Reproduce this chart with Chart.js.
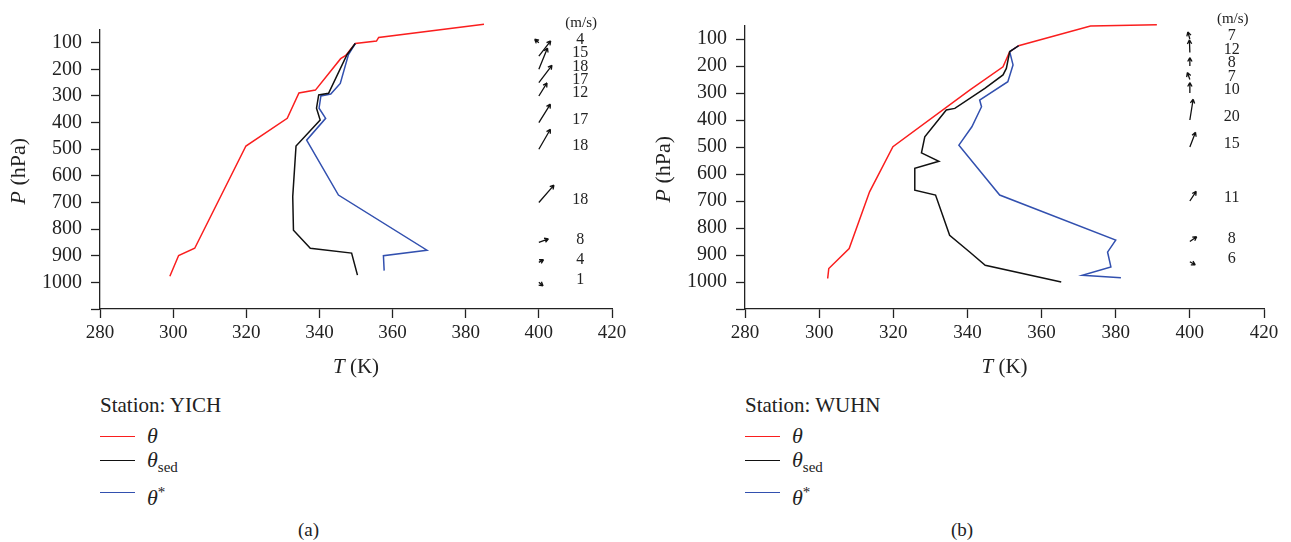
<!DOCTYPE html>
<html>
<head>
<meta charset="utf-8">
<script src="https://cdn.jsdelivr.net/npm/chart.js@4.4.1/dist/chart.umd.min.js"></script>
<style>
body { margin:0; background:#fff; width:1291px; height:542px; overflow:hidden; position:relative; font-family:'Liberation Serif', 'Times New Roman', serif; color:#222; }
.panel { position:absolute; top:0; }
.leg { position:absolute; white-space:nowrap; }
.sw { position:absolute; width:35px; height:0; border-top:1.5px solid; }
.sym { position:absolute; font-size:22px; font-style:italic; line-height:22px; }
.sym sub { font-style:normal; font-size:15px; vertical-align:-5px; }
.sym sup { font-style:normal; font-size:15px; vertical-align:8px; }
</style>
</head>
<body>
<canvas id="chartA" class="panel" width="645" height="385" style="left:0"></canvas>
<canvas id="chartB" class="panel" width="646" height="385" style="left:645px"></canvas>
<div id="legends"></div>
<script>
// Station YICH (a)
var yichThetaT = [299.1, 301.5, 305.9, 319.9, 331.2, 334.4, 338.9, 345.8, 347.2, 349.8, 355.6, 356.2, 385.0];
var yichThetaP = [977, 899, 872, 488, 384, 289, 278, 160, 148, 103, 94, 80, 31];
var yichSedT = [350.4, 348.8, 337.5, 332.9, 332.7, 333.6, 340.2, 339.2, 339.8, 342.5, 347.5, 349.8];
var yichSedP = [973, 890, 872, 804, 678, 488, 390, 346, 296, 290, 146, 103];
var yichStarT = [357.7, 357.5, 369.4, 345.2, 336.5, 341.7, 339.9, 340.4, 343.1, 345.7, 347.9, 349.8];
var yichStarP = [956, 900, 879, 672, 466, 384, 346, 300, 293, 253, 146, 103];
var yichWindP = [100, 150, 200, 250, 300, 400, 500, 700, 850, 925, 1000];
var yichWindSpd = [4, 15, 18, 17, 12, 17, 18, 18, 8, 4, 1];
var yichWindDir = [140, 52, 68, 53, 58, 58, 60, 49, 20, 31, -40];

// Station WUHN (b)
var wuhnThetaT = [302.3, 302.6, 308.1, 313.6, 319.9, 340.6, 349.6, 351.4, 353.8, 373.2, 391.1];
var wuhnThetaP = [987, 950, 876, 666, 499, 289, 203, 147, 125, 52, 47];
var wuhnSedT = [365.3, 344.8, 340.6, 335.2, 331.4, 325.8, 325.8, 332.3, 327.6, 328.5, 334.3, 336.6, 344.7, 349.6, 350.5, 351.4, 353.8];
var wuhnSedP = [1000, 938, 889, 827, 678, 660, 579, 553, 522, 462, 363, 357, 283, 233, 209, 147, 125];
var wuhnStarT = [381.4, 371.0, 378.7, 377.8, 380.0, 348.7, 337.7, 341.2, 343.8, 343.3, 350.9, 352.3, 351.4, 353.8];
var wuhnStarP = [984, 975, 944, 889, 845, 678, 493, 425, 351, 326, 258, 196, 147, 125];
var wuhnWindP = [100, 150, 200, 250, 300, 400, 500, 700, 850, 925];
var wuhnWindSpd = [7, 12, 8, 7, 10, 20, 15, 11, 8, 6];
var wuhnWindDir = [106, 92, 90, 110, 90, 81, 69, 57, 35, -30];

var pTicks = [100, 200, 300, 400, 500, 600, 700, 800, 900, 1000, 1100];
var tTicks = [280, 300, 320, 340, 360, 380, 400, 420];

var FONT = "'Liberation Serif', 'Times New Roman', serif";
Chart.defaults.font.family = FONT;
Chart.defaults.color = '#222';

function pts(t, p) {
    var out = [];
    for (var i = 0; i < t.length; i++) out.push({x: t[i], y: p[i]});
    return out;
}

// wind arrows, their labels and the axis titles (mixed italic text)
function extrasPlugin(windP, windSpd, windDir, lenScale) {
    return {
        id: 'extras',
        afterDraw: function(chart) {
            var ctx = chart.ctx;
            var xs = chart.scales.x, ys = chart.scales.y;
            var x0 = xs.getPixelForValue(400);
            var xl = xs.getPixelForValue(411.3);
            ctx.save();
            ctx.strokeStyle = '#111';
            ctx.fillStyle = '#222';
            ctx.lineWidth = 1.3;
            ctx.font = '16px ' + FONT;
            ctx.textAlign = 'center';
            ctx.textBaseline = 'middle';
            for (var i = 0; i < windP.length; i++) {
                var y0 = ys.getPixelForValue(windP[i]);
                var len = Math.max(windSpd[i] * lenScale, 5.5);
                var a = windDir[i] * Math.PI / 180;
                var x1 = x0 + len * Math.cos(a), y1 = y0 - len * Math.sin(a);
                ctx.beginPath();
                ctx.moveTo(x0, y0);
                ctx.lineTo(x1, y1);
                [-1, 1].forEach(function(s) {
                    var b = a + Math.PI + s * 0.5;
                    ctx.moveTo(x1, y1);
                    ctx.lineTo(x1 + 4.5 * Math.cos(b), y1 - 4.5 * Math.sin(b));
                });
                ctx.stroke();
                ctx.fillText(String(windSpd[i]), xl, y0 - 3);
            }
            ctx.font = '15px ' + FONT;
            ctx.fillText('(m/s)', xl + 1, ys.getPixelForValue(windP[0]) - 20);

            // x title: T (K)
            ctx.font = 'italic 21px ' + FONT;
            var w1 = ctx.measureText('T').width;
            ctx.font = '21px ' + FONT;
            var w2 = ctx.measureText(' (K)').width;
            var cx = (xs.left + xs.right) / 2 - (w1 + w2) / 2;
            ctx.textAlign = 'left';
            ctx.font = 'italic 21px ' + FONT;
            ctx.fillText('T', cx, 367);
            ctx.font = '21px ' + FONT;
            ctx.fillText(' (K)', cx + w1, 367);

            // y title: P (hPa)
            ctx.translate(19, (ys.top + ys.bottom) / 2 + 2);
            ctx.rotate(-Math.PI / 2);
            ctx.font = 'italic 22px ' + FONT;
            w1 = ctx.measureText('P').width;
            ctx.font = '22px ' + FONT;
            w2 = ctx.measureText(' (hPa)').width;
            ctx.font = 'italic 22px ' + FONT;
            ctx.fillText('P', -(w1 + w2) / 2, 0);
            ctx.font = '22px ' + FONT;
            ctx.fillText(' (hPa)', -(w1 + w2) / 2 + w1, 0);
            ctx.restore();
        }
    };
}

function makeChart(id, thT, thP, sdT, sdP, stT, stP, wP, wS, wD, lenScale, padTop, padRight) {
    var ctx = document.getElementById(id).getContext('2d');
    return new Chart(ctx, {
        type: 'line',
        data: {
            datasets: [{
                    label: 'theta_sed',
                    data: pts(sdT, sdP),
                    borderColor: '#111',
                    order: 0
                },
                {
                    label: 'theta*',
                    data: pts(stT, stP),
                    borderColor: 'rgb(50, 80, 175)',
                    order: 1
                },
                {
                    label: 'theta',
                    data: pts(thT, thP),
                    borderColor: 'rgb(250, 30, 30)',
                    order: 2
                }
            ]
        },
        options: {
            responsive: false,
            animation: false,
            clip: false,
            layout: { padding: { top: padTop, right: padRight, left: 0, bottom: 0 } },
            elements: {
                line: { borderWidth: 1.5, tension: 0, fill: false },
                point: { radius: 0 }
            },
            plugins: { legend: { display: false }, tooltip: { enabled: false } },
            scales: {
                x: {
                    type: 'linear',
                    min: 280,
                    max: 420,
                    afterFit: function(scale) { scale.height = 76; },
                    afterBuildTicks: function(scale) {
                        scale.ticks = tTicks.map(function(v) { return {value: v}; });
                    },
                    grid: { drawOnChartArea: false, tickLength: 9, tickColor: '#222', tickWidth: 1.3 },
                    border: { color: '#222', width: 1.3 },
                    ticks: { font: { family: FONT, size: 19 }, color: '#222', padding: 4, maxRotation: 0 }
                },
                y: {
                    type: 'linear',
                    reverse: true,
                    min: 50,
                    max: 1100,
                    afterFit: function(scale) { scale.width = 100; },
                    afterBuildTicks: function(scale) {
                        scale.ticks = pTicks.map(function(v) { return {value: v}; });
                    },
                    grid: { drawOnChartArea: false, tickLength: 9, tickColor: '#222', tickWidth: 1.3 },
                    border: { color: '#222', width: 1.3 },
                    ticks: {
                        font: { family: FONT, size: 20 },
                        color: '#222',
                        padding: 9,
                        callback: function(v) { return v >= 1100 ? '' : v; }
                    }
                }
            }
        },
        plugins: [extrasPlugin(wP, wS, wD, lenScale)]
    });
}

makeChart('chartA', yichThetaT, yichThetaP, yichSedT, yichSedP, yichStarT, yichStarP,
    yichWindP, yichWindSpd, yichWindDir, 1.28, 29.4, 33);
makeChart('chartB', wuhnThetaT, wuhnThetaP, wuhnSedT, wuhnSedP, wuhnStarT, wuhnStarP,
    wuhnWindP, wuhnWindSpd, wuhnWindDir, 1.05, 25.5, 27);

// legends under each panel
var seriesColors = ['rgb(250, 30, 30)', '#111', 'rgb(50, 80, 175)'];
var seriesNames = ['θ', 'θ<sub>sed</sub>', 'θ<sup>*</sup>'];
var rowY = [437, 461, 493];

function makeLegend(left, station, tag, tagX) {
    var html = '<div class="leg" style="left:' + left + 'px;top:393px;font-size:21px;">Station: ' + station + '</div>';
    for (var i = 0; i < seriesNames.length; i++) {
        html += '<div class="sw" style="left:' + left + 'px;top:' + (rowY[i] - 1) + 'px;border-color:' + seriesColors[i] + '"></div>';
        html += '<div class="sym" style="left:' + (left + 47) + 'px;top:' + (rowY[i] - 12) + 'px">' + seriesNames[i] + '</div>';
    }
    html += '<div class="leg" style="left:' + (tagX - 12) + 'px;top:519px;font-size:19px;">' + tag + '</div>';
    return html;
}

document.getElementById('legends').innerHTML =
    makeLegend(100, 'YICH', '(a)', 310) + makeLegend(745, 'WUHN', '(b)', 963);
</script>
</body>
</html>
